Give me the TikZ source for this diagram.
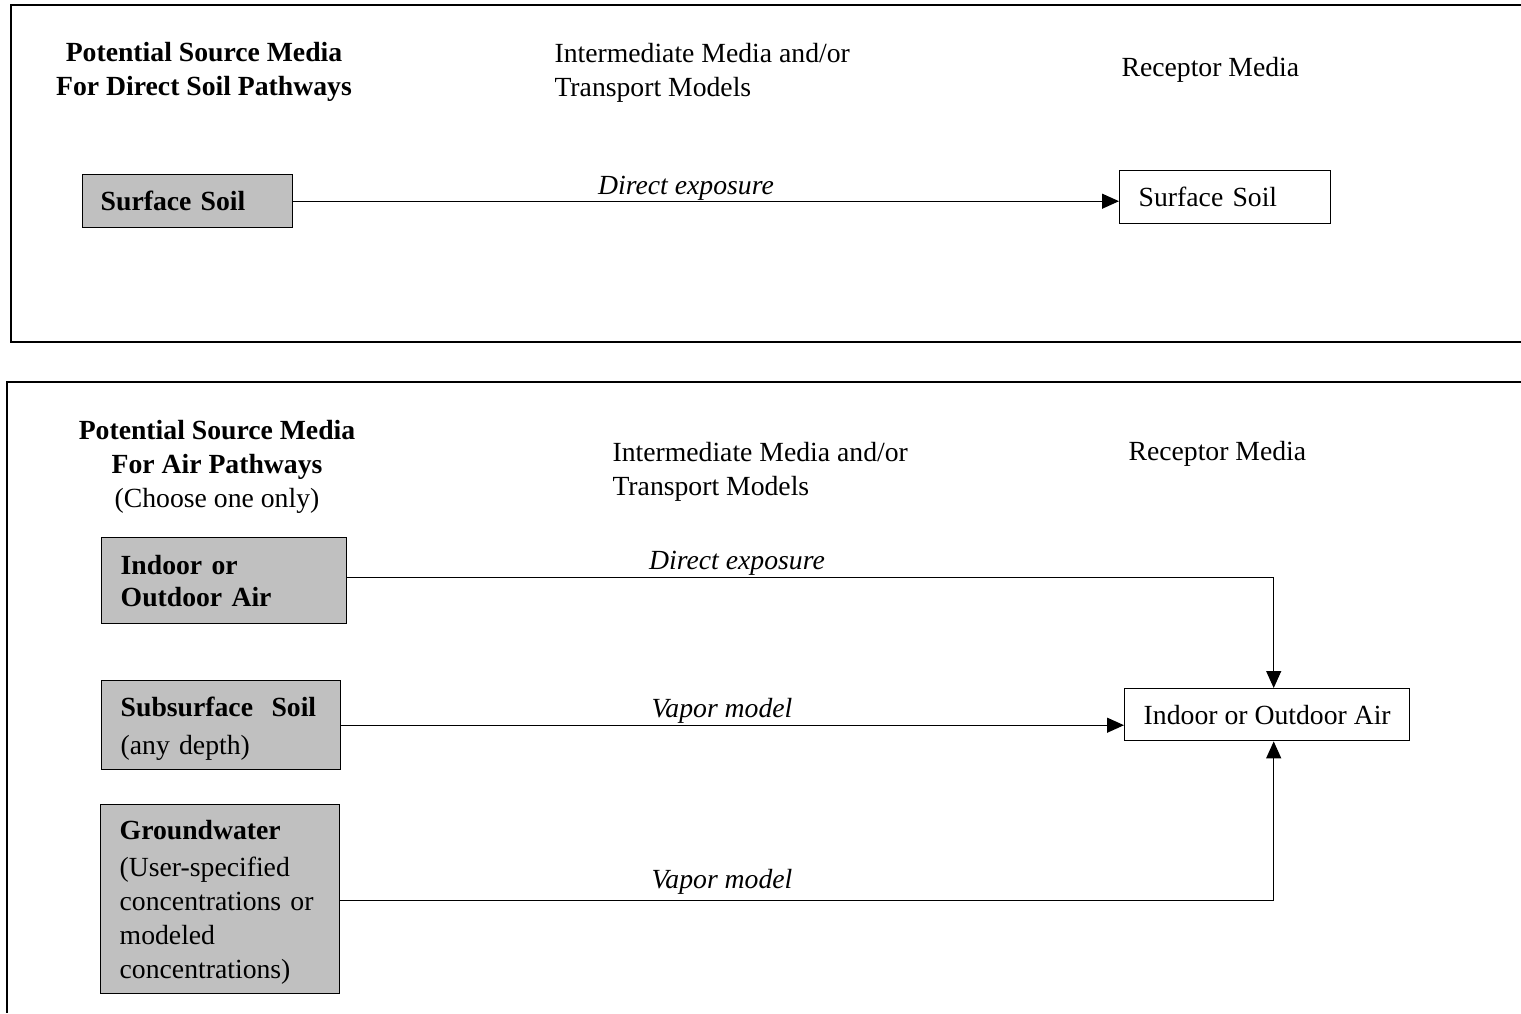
\documentclass[tikz,border=0pt]{standalone}
\usepackage{fontspec}
\setmainfont{Liberation Serif}
\usetikzlibrary{arrows.meta}
\definecolor{boxgray}{HTML}{C0C0C0}
\begin{document}
\begin{tikzpicture}[x=1pt,y=-1pt,
  every node/.style={font=\fontsize{27.7}{34}\selectfont},
  frame/.style={line width=1.4pt},
  srcbox/.style={draw, line width=1.4pt, fill=boxgray, anchor=north west, align=left, inner ysep=0pt},
  rcvbox/.style={draw, line width=1.4pt, fill=white, anchor=north west, inner ysep=0pt},
  arr/.style={line width=1.2pt, -{Triangle[length=17pt,width=15pt]}},
  lbl/.style={font=\fontsize{27.7}{34}\selectfont\itshape}
]
\useasboundingbox (0,0) rectangle (1521,1013);
% frames
\draw[frame] (1521,5) -- (11,5) -- (11,342) -- (1521,342);
\draw[frame] (1521,382) -- (7,382) -- (7,1013);

% ---------- top panel ----------
\node[align=center, font=\fontsize{27.7}{34}\selectfont\bfseries] (h1) at (204,72) {Potential Source Media\\For Direct Soil Pathways};
\node[align=left, anchor=west] (m1) at (551,73) {Intermediate Media and/or\\Transport Models};
\node[anchor=west] (r1) at (1118,70) {Receptor Media};

\node[srcbox, minimum height=53pt, text width=174pt, inner xsep=18pt] (ss) at (82,174) {\textbf{Surface Soil}};
\node[rcvbox, minimum height=53pt, text width=173pt, inner xsep=19pt, align=left] (rs) at (1119,170) {Surface Soil};
\draw[arr] (ss.east) -- (ss.east -| rs.west);
\node[lbl] (l1) at (686,188) {Direct exposure};

% ---------- bottom panel ----------
\node[align=center] (h2) at (217,466.5) {\textbf{Potential Source Media}\\\textbf{For Air Pathways}\\(Choose one only)};
\node[align=left, anchor=west] (m2) at (609,472) {Intermediate Media and/or\\Transport Models};
\node[anchor=west] (r2) at (1125,454) {Receptor Media};

\node[srcbox, minimum height=86pt, text width=207pt, inner xsep=19pt, font=\fontsize{27.7}{32}\selectfont] (ia) at (101,537) {\textbf{Indoor or}\\\textbf{Outdoor Air}};
\node[srcbox, minimum height=89pt, text width=201pt, inner xsep=19pt] (sub) at (101,680) {\rule{0pt}{27pt}\textbf{Subsurface\ \ Soil}\\[4pt](any depth)};
\node[srcbox, minimum height=189pt, text width=201pt, inner xsep=19pt] (gw) at (100,804) {\rule{0pt}{25pt}\textbf{Groundwater}\\[3pt](User-specified\\concentrations or\\modeled\\concentrations)};

\node[rcvbox, minimum height=52pt, minimum width=285pt, anchor=north west] (ra) at (1124,688) {Indoor or Outdoor Air};

\coordinate (rat) at ([xshift=6.5pt]ra.north);
\coordinate (rab) at ([xshift=6.5pt]ra.south);
\draw[arr] ([yshift=3pt]ia.east) -| (rat);
\draw[arr] (sub.east) -- (sub.east -| ra.west);
\draw[arr] ([yshift=-1.5pt]gw.east) -| (rab);

\node[lbl] (l2) at (737,563) {Direct exposure};
\node[lbl] (l3) at (722,711) {Vapor model};
\node[lbl] (l4) at (722,882) {Vapor model};
\end{tikzpicture}
\end{document}
